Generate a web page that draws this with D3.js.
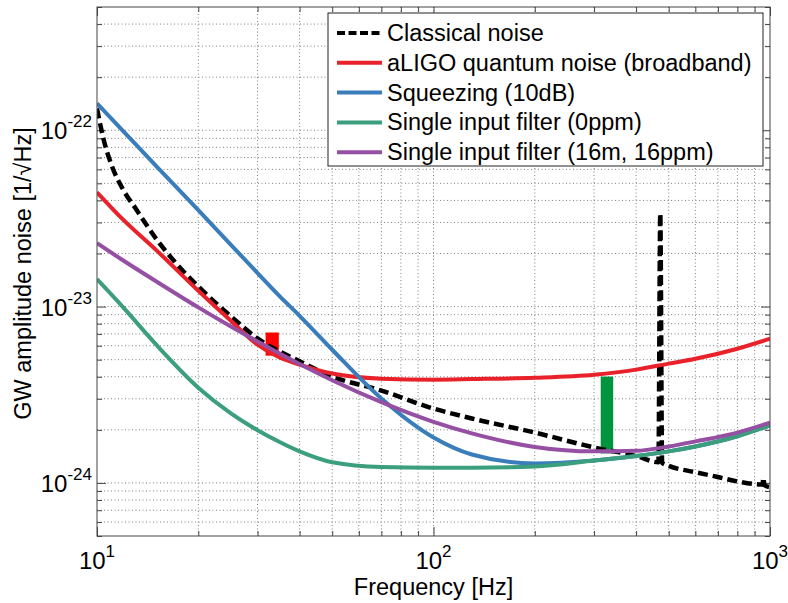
<!DOCTYPE html>
<html>
<head>
<meta charset="utf-8">
<script src="https://cdn.jsdelivr.net/npm/d3@7"></script>
<style>
body { margin: 0; background: #fff; }
text { font-family: "Liberation Sans", Arial, sans-serif; fill: #000; }
</style>
</head>
<body>
<div id="chart"></div>
<script>
// ---- data ----
var seriesNames = ["Classical noise", "aLIGO quantum noise (broadband)", "Squeezing (10dB)",
                   "Single input filter (0ppm)", "Single input filter (16m, 16ppm)"];

// shared frequency grid for the four smooth curves [Hz]
var freqs = [10, 12, 15, 20, 25, 30, 35, 40, 50, 70, 100, 130, 200, 300, 400, 500, 600, 800, 1000];
var quantum = [4.45e-23, 3.09e-23, 2.09e-23, 1.23e-23, 8.3e-24, 6.08e-24, 5.13e-24, 4.69e-24, 4.17e-24, 3.9e-24,
               3.85e-24, 3.88e-24, 3.95e-24, 4.11e-24, 4.39e-24, 4.75e-24, 5.06e-24, 5.77e-24, 6.57e-24];
var squeezed = [1.42e-22, 9.83e-23, 6.26e-23, 3.52e-23, 2.24e-23, 1.55e-23, 1.14e-23, 8.86e-24, 5.69e-24, 3.01e-24,
                1.81e-24, 1.45e-24, 1.29e-24, 1.34e-24, 1.42e-24, 1.51e-24, 1.61e-24, 1.84e-24, 2.12e-24];
var filter0 = [1.43e-23, 9.83e-24, 6.08e-24, 3.47e-24, 2.48e-24, 1.99e-24, 1.7e-24, 1.51e-24, 1.31e-24, 1.23e-24,
               1.22e-24, 1.22e-24, 1.24e-24, 1.34e-24, 1.42e-24, 1.51e-24, 1.61e-24, 1.84e-24, 2.12e-24];
var filter16 = [2.29e-23, 1.82e-23, 1.39e-23, 9.9e-24, 7.71e-24, 6.34e-24, 5.4e-24, 4.72e-24, 3.82e-24, 2.87e-24,
                2.22e-24, 1.91e-24, 1.6e-24, 1.51e-24, 1.52e-24, 1.61e-24, 1.72e-24, 1.93e-24, 2.2e-24];

// classical noise has its own grid (violin-mode spike near 470 Hz)
var classicalF = [10, 10.5, 11, 12, 13, 15, 17, 20, 25, 30, 40, 50, 70, 100, 130, 200, 300, 400,
                  466, 472, 478, 500, 600, 700, 800, 950, 956, 962, 1000];
var classicalV = [1.33e-22, 8.63e-23, 6.48e-23, 4.55e-23, 3.62e-23, 2.42e-23, 1.8e-23, 1.3e-23, 8.8e-24,
                  6.6e-24, 4.9e-24, 4.01e-24, 3.34e-24, 2.64e-24, 2.32e-24, 1.93e-24, 1.59e-24, 1.42e-24,
                  1.31e-24, 3.38e-23, 1.3e-24, 1.25e-24, 1.15e-24, 1.08e-24, 1.02e-24, 9.8e-25, 1.07e-24,
                  9.7e-25, 9.46e-25];

// the two vertical bands (frequency span and amplitude span)
var bandF0 = [31.7, 314];
var bandF1 = [34.7, 342];
var bandLo = [5.27e-24, 1.47e-24];
var bandHi = [7.13e-24, 4.01e-24];

// ---- styles ----
var colors = ["#000000", "#e8212a", "#3a7dbb", "#3b9e7c", "#954fa3"];
var bandColors = ["#ff0000", "#00943f"];

var W = 788, H = 603;
var margin = {top: 7, right: 18, bottom: 67, left: 97},
    width = W - margin.left - margin.right,
    height = H - margin.top - margin.bottom;

var svg = d3.select("#chart")
    .append("svg")
        .attr("width", W)
        .attr("height", H)
    .append("g")
        .attr("transform", "translate(" + margin.left + "," + margin.top + ")");

var x = d3.scaleLog().domain([10, 1000]).range([0, width]);
var y = d3.scaleLog().domain([5e-25, 5e-22]).range([height, 0]);

function isMajor(d) {
    var l = Math.log10(d);
    return Math.abs(l - Math.round(l)) < 1e-6;
}

var xTicks = x.ticks();
var yTicks = y.ticks();
var xMajor = xTicks.filter(isMajor);
var yMajor = yTicks.filter(isMajor);

// dotted grid
svg.append("g").selectAll("line")
    .data(xTicks.filter(function(d) { return d > 10.001 && d < 999; }))
    .enter().append("line")
        .attr("x1", function(d) { return x(d); })
        .attr("x2", function(d) { return x(d); })
        .attr("y1", 0).attr("y2", height)
        .style("stroke", "#808080")
        .style("stroke-dasharray", "1,2.5");
svg.append("g").selectAll("line")
    .data(yTicks.filter(function(d) { return y(d) > 1 && y(d) < height - 1; }))
    .enter().append("line")
        .attr("y1", function(d) { return y(d); })
        .attr("y2", function(d) { return y(d); })
        .attr("x1", 0).attr("x2", width)
        .style("stroke", "#808080")
        .style("stroke-dasharray", "1,2.5");

// inward ticks on all four sides
function tickAxis(axis, tx, ty, vals, size) {
    var g = svg.append("g")
        .attr("transform", "translate(" + tx + "," + ty + ")")
        .call(axis.tickValues(vals).tickSize(size).tickFormat(""));
    g.select(".domain").remove();
    g.selectAll("line").style("stroke", "#444");
}
var xMinor = xTicks.filter(function(d) { return !isMajor(d); });
var yMinor = yTicks.filter(function(d) { return !isMajor(d); });
tickAxis(d3.axisBottom(x), 0, height, xMinor, -5);
tickAxis(d3.axisBottom(x), 0, height, xMajor, -9);
tickAxis(d3.axisTop(x), 0, 0, xMinor, -5);
tickAxis(d3.axisTop(x), 0, 0, xMajor, -9);
tickAxis(d3.axisLeft(y), 0, 0, yMinor, -5);
tickAxis(d3.axisLeft(y), 0, 0, yMajor, -9);
tickAxis(d3.axisRight(y), width, 0, yMinor, -5);
tickAxis(d3.axisRight(y), width, 0, yMajor, -9);

// clip
svg.append("clipPath").attr("id", "plotclip")
    .append("rect").attr("width", width).attr("height", height);
var plot = svg.append("g").attr("clip-path", "url(#plotclip)");

// bands
bandF0.forEach(function(f0, i) {
    plot.append("rect")
        .attr("x", x(f0))
        .attr("width", x(bandF1[i]) - x(f0))
        .attr("y", y(bandHi[i]))
        .attr("height", y(bandLo[i]) - y(bandHi[i]))
        .style("fill", bandColors[i]);
});

var line = d3.line()
    .x(function(d) { return x(d[0]); })
    .y(function(d) { return y(d[1]); })
    .curve(d3.curveMonotoneX);

function zip(fs, vs) { return fs.map(function(f, i) { return [f, vs[i]]; }); }

var curves = [zip(classicalF, classicalV), zip(freqs, quantum), zip(freqs, squeezed),
              zip(freqs, filter0), zip(freqs, filter16)];

curves.forEach(function(c, i) {
    plot.append("path")
        .datum(c)
        .attr("d", line)
        .style("fill", "none")
        .style("stroke", colors[i])
        .style("stroke-width", i === 0 ? 4.5 : 4)
        .style("stroke-dasharray", i === 0 ? "10,5" : null)
        .style("stroke-linejoin", "round");
});

// box
svg.append("rect")
    .attr("width", width).attr("height", height)
    .style("fill", "none").style("stroke", "#444").style("stroke-width", 1);

// tick labels
var xl = svg.append("g").selectAll("text")
    .data(xMajor).enter().append("text")
        .attr("x", function(d) { return x(d); })
        .attr("y", height + 33)
        .attr("text-anchor", "middle")
        .style("font-size", "24px");
xl.append("tspan").text("10");
xl.append("tspan").attr("dy", -12).style("font-size", "17px")
    .text(function(d) { return Math.round(Math.log10(d)); });

var yl = svg.append("g").selectAll("text")
    .data(yMajor).enter().append("text")
        .attr("x", -5)
        .attr("y", function(d) { return y(d) + 9; })
        .attr("text-anchor", "end")
        .style("font-size", "24px");
yl.append("tspan").text("10");
yl.append("tspan").attr("dy", -12).style("font-size", "17px")
    .text(function(d) { return Math.round(Math.log10(d)); });

// axis titles
svg.append("text")
    .attr("x", width / 2)
    .attr("y", height + 59)
    .attr("text-anchor", "middle")
    .style("font-size", "23.5px")
    .text("Frequency [Hz]");
svg.append("text")
    .attr("transform", "translate(-66," + (height / 2 + 2) + ") rotate(-90)")
    .attr("text-anchor", "middle")
    .style("font-size", "23.5px")
    .text("GW amplitude noise [1/\u221AHz]");

// legend
var lg = svg.append("g").attr("transform", "translate(231,6)");
lg.append("rect")
    .attr("width", 435).attr("height", 153)
    .style("fill", "#fff").style("stroke", "#222").style("stroke-width", 1);
seriesNames.forEach(function(name, i) {
    var cy = 20 + 29.8 * i;
    lg.append("line")
        .attr("x1", 9).attr("x2", 54)
        .attr("y1", cy).attr("y2", cy)
        .style("stroke", colors[i])
        .style("stroke-width", 4)
        .style("stroke-dasharray", i === 0 ? "8,3.5" : null);
    lg.append("text")
        .attr("x", 59)
        .attr("y", cy + 8)
        .style("font-size", "23.5px")
        .text(name);
});
</script>
</body>
</html>
